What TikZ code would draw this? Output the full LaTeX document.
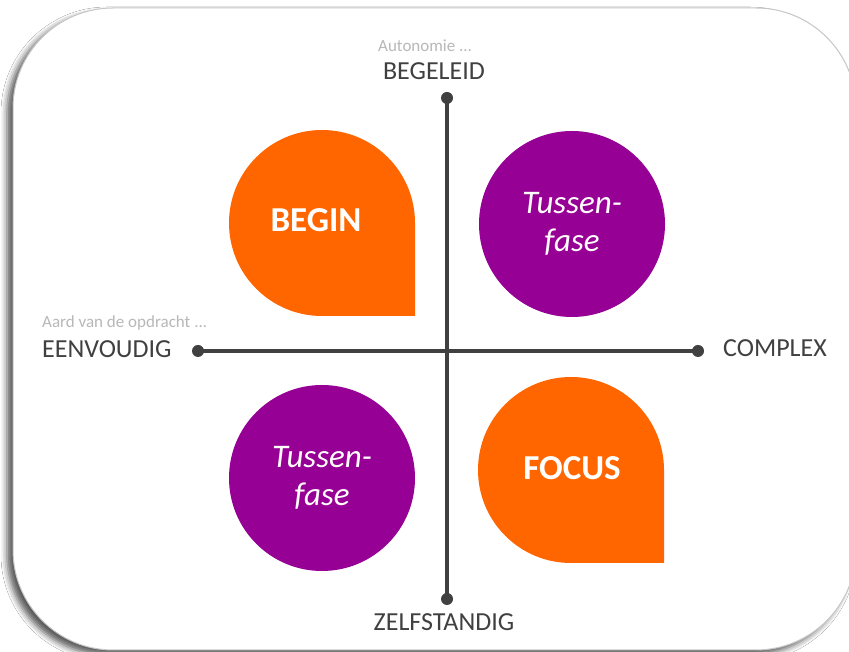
\documentclass[tikz,border=0pt]{standalone}
\usepackage{fontspec}
\setmainfont{Carlito}
\usetikzlibrary{shadows.blur}
\definecolor{dropOrange}{HTML}{FF6600}
\definecolor{dropPurple}{HTML}{960094}
\colorlet{axisgray}{black!75}
\colorlet{hintgray}{black!28}
\tikzstyle{axis}=[line width=4,axisgray]
\tikzstyle{dot}=[circle,fill=axisgray,inner sep=0,minimum size=12]
\tikzstyle{pole}=[axisgray,font=\fontsize{26}{30}\selectfont,inner sep=0]
\tikzstyle{hint}=[hintgray,font=\fontsize{17}{20}\selectfont,inner sep=0]
\tikzstyle{phase}=[white,font=\bfseries\fontsize{35}{40}\selectfont,inner sep=0]
\tikzstyle{between}=[white!95!pink,align=center,font=\itshape\fontsize{33}{38}\selectfont,inner sep=0]
\def\R{93}
\def\drop#1#2{
  \fill[#2] (#1) ++ (\R,0) arc (0:270:\R) -- ++ (\R,0) -- cycle;
}
\begin{document}
\begin{tikzpicture}[x=1pt,y=1pt]
  \useasboundingbox (0,0) rectangle (849,652);
  \fill[white] (0,0) rectangle (849,652);

  % CARD
  \draw[gray!45,line width=1,fill=white,rounded corners=100,
    blur shadow={shadow xshift=-6pt,shadow yshift=-5pt,shadow blur radius=6pt,shadow opacity=65}]
    (13,2) rectangle (856,644);

  \coordinate (BG) at (322,429);
  \coordinate (TA) at (572,428);
  \coordinate (TB) at (322,174);
  \coordinate (FC) at (571,182);

  % SHAPES
  \drop{BG}{dropOrange}
  \drop{FC}{dropOrange}
  \fill[dropPurple] (TA) circle (\R);
  \fill[dropPurple] (TB) circle (\R);

  \node[phase,anchor=base] (begin) at (316,420) {BEGIN};
  \node[phase,anchor=base] (focus) at (572,172) {FOCUS};
  \node[between] (tussenA) at (TA) {Tussen-\\fase};
  \node[between] (tussenB) at (TB) {Tussen-\\fase};

  % AXES
  \node[dot] (north) at (447,554) {};
  \node[dot] (south) at (447,53) {};
  \node[dot] (west)  at (198,301) {};
  \node[dot] (east)  at (698,301) {};
  \draw[axis] (north.center) -- (south.center);
  \draw[axis] (west.center) -- (east.center);

  % LABELS
  \node[pole,anchor=base] (begeleid) at (434,572) {BEGELEID};
  \node[hint,anchor=base west] (autonomie) at (378,600) {Autonomie ...};
  \node[pole,anchor=base] (zelfstandig) at (444,21) {ZELFSTANDIG};
  \node[pole,anchor=base west] (eenvoudig) at (42,294) {EENVOUDIG};
  \node[hint,anchor=base west] (aard) at (42,324) {Aard van de opdracht ...};
  \node[pole,anchor=base west] (complex) at (723,295) {COMPLEX};
\end{tikzpicture}
\end{document}
